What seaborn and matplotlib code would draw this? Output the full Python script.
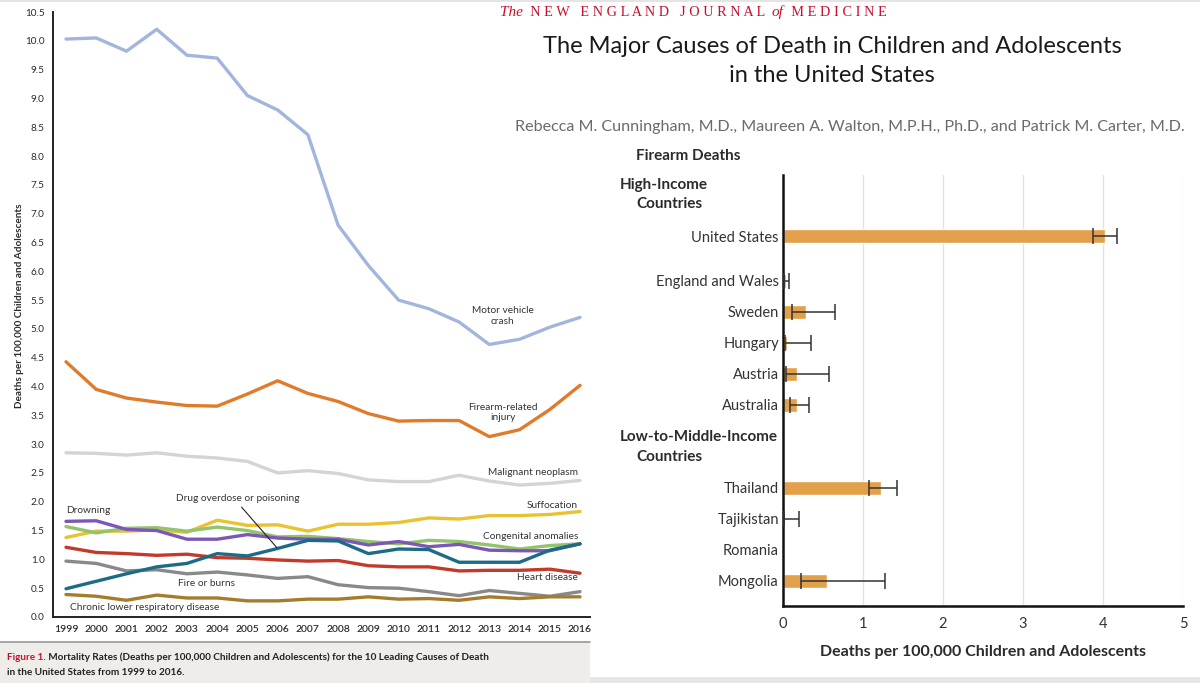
import numpy as np
import pandas as pd
import matplotlib
matplotlib.use("Agg")
import matplotlib.pyplot as plt
import seaborn as sns
from matplotlib.transforms import blended_transform_factory
from matplotlib.patches import Rectangle
from matplotlib.lines import Line2D

# ---------------- data: left panel ----------------
years = list(range(1999, 2017))
motor_vehicle = [10.03, 10.05, 9.82, 10.20, 9.75, 9.70, 9.05, 8.80, 8.37, 6.80, 6.10, 5.50, 5.35, 5.12, 4.73, 4.82, 5.03, 5.20]
firearm = [4.43, 3.95, 3.80, 3.73, 3.67, 3.66, 3.87, 4.10, 3.88, 3.74, 3.53, 3.40, 3.41, 3.41, 3.13, 3.25, 3.60, 4.02]
malignant = [2.85, 2.84, 2.81, 2.85, 2.79, 2.76, 2.70, 2.50, 2.54, 2.49, 2.38, 2.35, 2.35, 2.46, 2.36, 2.29, 2.32, 2.37]
suffocation = [1.38, 1.49, 1.49, 1.51, 1.47, 1.68, 1.59, 1.60, 1.49, 1.61, 1.61, 1.64, 1.72, 1.70, 1.76, 1.76, 1.78, 1.83]
congenital = [1.57, 1.46, 1.54, 1.55, 1.49, 1.56, 1.50, 1.39, 1.40, 1.36, 1.31, 1.27, 1.33, 1.31, 1.25, 1.18, 1.24, 1.27]
drowning = [1.66, 1.67, 1.52, 1.50, 1.35, 1.35, 1.43, 1.37, 1.35, 1.35, 1.25, 1.31, 1.22, 1.26, 1.16, 1.15, 1.15, 1.27]
drug = [0.49, 0.62, 0.75, 0.87, 0.93, 1.10, 1.06, 1.19, 1.33, 1.32, 1.10, 1.18, 1.17, 0.95, 0.95, 0.95, 1.16, 1.27]
heart = [1.21, 1.12, 1.10, 1.07, 1.09, 1.03, 1.02, 0.99, 0.97, 0.98, 0.89, 0.87, 0.87, 0.80, 0.81, 0.81, 0.83, 0.76]
fire = [0.97, 0.93, 0.80, 0.82, 0.75, 0.78, 0.73, 0.67, 0.70, 0.56, 0.51, 0.50, 0.44, 0.37, 0.46, 0.41, 0.36, 0.44]
chronic = [0.39, 0.36, 0.29, 0.38, 0.33, 0.33, 0.28, 0.28, 0.31, 0.31, 0.35, 0.31, 0.32, 0.29, 0.35, 0.32, 0.35, 0.35]

cause_names = ["Motor vehicle crash", "Firearm-related injury", "Malignant neoplasm", "Suffocation",
               "Congenital anomalies", "Drowning", "Fire or burns", "Chronic lower respiratory disease",
               "Heart disease", "Drug overdose or poisoning"]
cause_values = [motor_vehicle, firearm, malignant, suffocation, congenital, drowning, fire, chronic, heart, drug]
cause_colors = ["#a3b5dd", "#e07b2c", "#d4d4d4", "#e9c232", "#93c46b", "#7b58b5", "#898989", "#a57c2c",
                "#c43a2a", "#1d6b85"]

# ---------------- data: right panel ----------------
countries = ["United States", "England and Wales", "Sweden", "Hungary", "Austria", "Australia",
             "Thailand", "Tajikistan", "Romania", "Mongolia"]
firearm_rate = [4.02, 0.04, 0.29, 0.05, 0.18, 0.18, 1.22, 0.02, 0.0, 0.55]
ci_low = [3.87, 0.01, 0.11, 0.02, 0.04, 0.09, 1.07, 0.01, np.nan, 0.23]
ci_high = [4.17, 0.08, 0.65, 0.35, 0.58, 0.33, 1.42, 0.20, np.nan, 1.28]
row_steps = [0, 1.45, 1, 1, 1, 1, 2.68, 1, 1, 1]   # layout spacing between rows

# ---------------- style ----------------
sns.set_theme(style="white")
plt.rcParams["font.family"] = ["Lato", "DejaVu Sans"]
TXT = "#2b2b2b"
RED = "#c8102e"
SERIF = ["Liberation Serif", "DejaVu Serif"]

W, H = 1200, 683
fig = plt.figure(figsize=(W / 100, H / 100), dpi=100)
fig.patch.set_facecolor("white")

def fx(px):
    return px / W

def fy(py):
    return 1 - py / H

# ---------------- background boxes ----------------
fig.patches.append(Rectangle((0, 0), fx(590), fy(642), transform=fig.transFigure,
                             facecolor="#efede9", edgecolor="none", zorder=-5))
fig.lines.append(Line2D([0, fx(590)], [fy(642), fy(642)], transform=fig.transFigure,
                        color="#9a9a9a", lw=1.2, zorder=-4))
fig.patches.append(Rectangle((fx(590), 0), 1 - fx(590), fy(677), transform=fig.transFigure,
                             facecolor="#e6e6e6", edgecolor="none", zorder=-5))
fig.patches.append(Rectangle((0, fy(2)), 1, 1 - fy(2), transform=fig.transFigure,
                             facecolor="#e4e4e4", edgecolor="none", zorder=-5))

# ---------------- left panel ----------------
ax1 = fig.add_axes([fx(53), fy(617), fx(590 - 53), (617 - 12) / H])
ax1.patch.set_alpha(0)
df = pd.DataFrame({
    "year": np.tile(years, len(cause_names)),
    "rate": np.concatenate(cause_values),
    "cause": np.repeat(cause_names, len(years)),
})
sns.lineplot(data=df, x="year", y="rate", hue="cause", hue_order=cause_names,
             palette=dict(zip(cause_names, cause_colors)), linewidth=2.4,
             legend=False, ax=ax1)
ax1.set_xlim(1998.57, 2016.33)
ax1.set_ylim(0, 10.5)
yt = np.arange(0, 10.51, 0.5)
ax1.set_yticks(yt)
ax1.set_yticklabels([f"{v:.1f}" for v in yt], fontsize=7.2, color=TXT)
ax1.set_xticks(years)
ax1.set_xticklabels([str(y) for y in years], fontsize=7.5, color=TXT, fontweight="semibold")
ax1.tick_params(axis="both", direction="out", length=4, width=1.2, color="#222", pad=2)
for s in ["top", "right"]:
    ax1.spines[s].set_visible(False)
for s in ["left", "bottom"]:
    ax1.spines[s].set_color("#222")
    ax1.spines[s].set_linewidth(1.4)
ax1.set_xlabel("")
ax1.set_ylabel("Deaths per 100,000 Children and Adolescents", fontsize=7.2,
               fontweight="bold", color=TXT)
ax1.yaxis.set_label_coords(-0.054, 0.514)

lab = dict(fontsize=7.3, color="#333")
ax1.text(2013.45, 5.23, "Motor vehicle\ncrash", ha="center", va="center", linespacing=1.25, **lab)
ax1.text(2013.45, 3.55, "Firearm-related\ninjury", ha="center", va="center", linespacing=1.25, **lab)
ax1.text(2015.93, 2.51, "Malignant neoplasm", ha="right", va="center", **lab)
ax1.text(2015.93, 1.93, "Suffocation", ha="right", va="center", **lab)
ax1.text(2015.93, 1.39, "Congenital anomalies", ha="right", va="center", **lab)
ax1.text(2015.93, 0.68, "Heart disease", ha="right", va="center", **lab)
ax1.text(2003.66, 0.59, "Fire or burns", ha="center", va="center", **lab)
ax1.text(1999.13, 0.17, "Chronic lower respiratory disease", ha="left", va="center", **lab)
ax1.text(1999.0, 1.85, "Drowning", ha="left", va="center", **lab)
ax1.annotate("Drug overdose or poisoning", xy=(2005.98, 1.20), xytext=(2002.64, 2.06),
             ha="left", va="center",
             arrowprops=dict(arrowstyle="-", lw=0.8, color="#222", shrinkA=1, shrinkB=0,
                             relpos=(0.5, 0.0)), **lab)

# ---------------- right panel ----------------
ax2 = fig.add_axes([fx(783), fy(606), fx(1183 - 783), (606 - 175) / H])
ax2.patch.set_alpha(0)
pos = np.cumsum(row_steps)
rate = np.array(firearm_rate)
lo = np.array(ci_low)
hi = np.array(ci_high)
sns.barplot(x=rate, y=pos, orient="h", native_scale=True, color="#e3a04a",
            saturation=1, width=0.45, ax=ax2)
m = ~np.isnan(lo)
ax2.errorbar(rate[m], pos[m], xerr=[rate[m] - lo[m], hi[m] - rate[m]], fmt="none",
             ecolor="#333", elinewidth=1.1, capsize=5.5, capthick=1.1, zorder=4)
ax2.set_xlim(0, 5)
ax2.set_ylim(pos[-1] + 0.81, -1.97)
ax2.set_yticks(pos)
ax2.set_yticklabels(countries, fontsize=10.5, color="#333")
ax2.set_xticks(range(6))
ax2.set_xticklabels([str(i) for i in range(6)], fontsize=10.5, color="#333")
ax2.tick_params(axis="y", length=0, pad=3)
ax2.tick_params(axis="x", direction="out", length=5, width=1.4, color="#222", pad=3)
ax2.xaxis.grid(True, color="#e2e2e2", lw=1.0)
ax2.yaxis.grid(False)
ax2.set_axisbelow(True)
for s in ["top", "right"]:
    ax2.spines[s].set_visible(False)
for s in ["left", "bottom"]:
    ax2.spines[s].set_color("#111")
    ax2.spines[s].set_linewidth(1.8)
ax2.set_ylabel("")
ax2.set_xlabel("Deaths per 100,000 Children and Adolescents", fontsize=11.5,
               fontweight="bold", color=TXT, labelpad=10)

bt = blended_transform_factory(ax2.transAxes, ax2.transData)
hdr = dict(fontsize=11, fontweight="bold", color=TXT, va="center", ha="left", transform=bt)
x_h1 = (620 - 783) / 400
x_h2 = (636 - 783) / 400
ax2.text(x_h1, -1.65, "High-Income", **hdr)
ax2.text(x_h2, -1.03, "Countries", **hdr)
ax2.text(x_h1, 6.48, "Low-to-Middle-Income", **hdr)
ax2.text(x_h2, 7.13, "Countries", **hdr)

# ---------------- titles ----------------
title_fam = ["Lato", "DejaVu Sans"]
fig.text(fx(832), fy(61), "The Major Causes of Death in Children and Adolescents\nin the United States",
         ha="center", va="center", fontsize=17, color="#1a1a1a", family=title_fam,
         linespacing=1.45)
fig.text(fx(1185), fy(127),
         "Rebecca M. Cunningham, M.D., Maureen A. Walton, M.P.H., Ph.D., and Patrick M. Carter, M.D.",
         ha="right", va="center", fontsize=11.65, color="#6a6a6a", family=title_fam)
fig.text(fx(636), fy(156), "Firearm Deaths", ha="left", va="center", fontsize=11,
         fontweight="bold", color=TXT)


def text_chain(x_px, y_px, parts):
    """Place consecutive text pieces left to right on one baseline."""
    renderer = fig.canvas.get_renderer()
    x = x_px
    for s, kw in parts:
        t = fig.text(fx(x), fy(y_px), s, va="baseline", ha="left", **kw)
        bb = t.get_window_extent(renderer=renderer)
        x = x + bb.width


text_chain(500, 16, [
    ("The", dict(fontsize=11, color=RED, style="italic", family=SERIF)),
    ("  N E W   E N G L A N D   J O U R N A L  ", dict(fontsize=10.3, color=RED, family=SERIF)),
    ("of", dict(fontsize=11, color=RED, style="italic", family=SERIF)),
    ("  M E D I C I N E", dict(fontsize=10.3, color=RED, family=SERIF)),
])

cap = dict(fontsize=7.2, color="#222", fontweight="bold")
text_chain(7, 660, [
    ("Figure 1.", dict(cap, color=RED)),
    (" Mortality Rates (Deaths per 100,000 Children and Adolescents) for the 10 Leading Causes of Death",
     cap),
])
fig.text(fx(7), fy(675), "in the United States from 1999 to 2016.", va="baseline", ha="left", **cap)

fig.savefig("out.png", dpi=100)
